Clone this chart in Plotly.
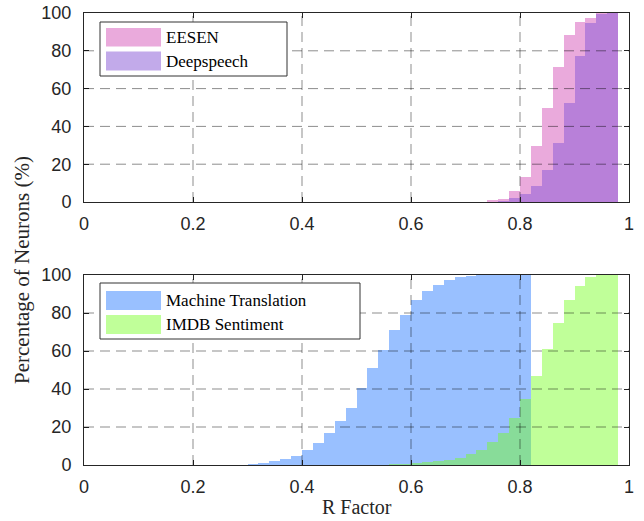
import plotly.graph_objects as go

# ---------------- data ----------------
top_bins = [0.75, 0.77, 0.79, 0.81, 0.83, 0.85, 0.87, 0.89, 0.91, 0.93, 0.95, 0.97]
eesen = [1, 1.6, 6, 13, 29.5, 50, 71.5, 88.5, 95, 97.5, 100, 100]
deepspeech = [0, 0.7, 2, 4, 8.5, 17, 31, 52.5, 77, 94.5, 99.3, 100]

mt_bins = [0.31, 0.33, 0.35, 0.37, 0.39, 0.41, 0.43, 0.45, 0.47, 0.49, 0.51, 0.53, 0.55,
           0.57, 0.59, 0.61, 0.63, 0.65, 0.67, 0.69, 0.71, 0.73, 0.75, 0.77, 0.79, 0.81]
machine_translation = [0.5, 1.2, 2, 3, 4.5, 8, 11.5, 17, 23, 30, 40.7, 51, 60.5,
                       71, 79, 87, 91.5, 95, 97.4, 98.8, 99.5, 100, 100, 100, 100, 100]

imdb_bins = [0.57, 0.59, 0.61, 0.63, 0.65, 0.67, 0.69, 0.71, 0.73, 0.75, 0.77, 0.79, 0.81,
             0.83, 0.85, 0.87, 0.89, 0.91, 0.93, 0.95, 0.97]
imdb_sentiment = [0.4, 0.6, 1.0, 1.4, 2, 2.8, 3.9, 5.7, 8, 12, 17, 25, 35,
                  47, 61, 75, 87, 94, 99, 100, 100]

bin_width = 0.02
x_ticks = [0, 0.2, 0.4, 0.6, 0.8, 1]
x_tick_labels = ["0", "0.2", "0.4", "0.6", "0.8", "1"]
y_ticks = [0, 20, 40, 60, 80, 100]
y_tick_labels = ["0", "20", "40", "60", "80", "100"]

# ---------------- styles ----------------
C_EESEN = "#eaaadc"
C_DEEP = "rgba(133,85,213,0.5)"
C_MT = "#99c0ff"
C_IMDB = "rgba(115,255,28,0.45)"
AX_COLOR = "#262626"
SANS = "Liberation Sans, Arial, sans-serif"
SERIF = "Liberation Serif, Times New Roman, serif"

W, H = 644, 521
L, R, T, B = 84, 15, 13, 56
PW, PH = W - L - R, H - T - B


def px_x(px):
    return (px - L) / PW


def px_y(py):
    return (H - B - py) / PH


fig = go.Figure()


def add_bars(xs, ys, color, name, xa, ya):
    fig.add_trace(go.Bar(x=xs, y=ys, width=bin_width, name=name,
                         marker=dict(color=color, line=dict(width=0)),
                         xaxis=xa, yaxis=ya, showlegend=False, hoverinfo="skip"))


add_bars(top_bins, eesen, C_EESEN, "EESEN", "x", "y")
add_bars(top_bins, deepspeech, C_DEEP, "Deepspeech", "x", "y")
add_bars(mt_bins, machine_translation, C_MT, "Machine Translation", "x2", "y2")
add_bars(imdb_bins, imdb_sentiment, C_IMDB, "IMDB Sentiment", "x2", "y2")

axis_common = dict(
    showline=True, linecolor=AX_COLOR, linewidth=1, mirror="ticks",
    ticks="inside", ticklen=5, tickcolor=AX_COLOR, tickwidth=1,
    showgrid=False, zeroline=False, layer="above traces", automargin=False,
    tickfont=dict(family=SANS, size=18, color=AX_COLOR),
)

top_dom = [px_y(202), 1]
bot_dom = [0, px_y(275)]

fig.update_layout(
    template="none",
    width=W, height=H,
    margin=dict(l=L, r=R, t=T, b=B, autoexpand=False),
    paper_bgcolor="white", plot_bgcolor="white",
    barmode="overlay", bargap=0,
    showlegend=False,
    xaxis=dict(range=[0, 1], domain=[0, 1], anchor="y", tickvals=x_ticks,
               ticktext=x_tick_labels, ticklabelstandoff=5, **axis_common),
    yaxis=dict(range=[0, 100], domain=top_dom, anchor="x", tickvals=y_ticks,
               ticktext=y_tick_labels, ticklabelstandoff=8, **axis_common),
    xaxis2=dict(range=[0, 1], domain=[0, 1], anchor="y2", tickvals=x_ticks,
                ticktext=x_tick_labels, ticklabelstandoff=5, **axis_common),
    yaxis2=dict(range=[0, 100], domain=bot_dom, anchor="x2", tickvals=y_ticks,
                ticktext=y_tick_labels, ticklabelstandoff=8, **axis_common),
)

# dashed grid lines drawn above the bars
GRID = dict(color="rgba(0,0,0,0.45)", width=1, dash="10px,6px")
for xa, ya in (("x", "y"), ("x2", "y2")):
    for xv in x_ticks[1:-1]:
        fig.add_shape(type="line", xref=xa, yref=ya, x0=xv, x1=xv,
                      y0=y_ticks[0], y1=y_ticks[-1], line=GRID, layer="above")
    for yv in y_ticks[1:-1]:
        fig.add_shape(type="line", xref=xa, yref=ya, x0=x_ticks[0], x1=x_ticks[-1],
                      y0=yv, y1=yv, line=GRID, layer="above")

# legends (boxes with wide swatches)
def legend(box, items):
    x0, y0, x1, y1 = box
    fig.add_shape(type="rect", xref="paper", yref="paper",
                  x0=px_x(x0), x1=px_x(x1), y0=px_y(y1), y1=px_y(y0),
                  line=dict(color="#333333", width=1), fillcolor="white", layer="above")
    for (sy0, sy1, color, label) in items:
        fig.add_shape(type="rect", xref="paper", yref="paper",
                      x0=px_x(106), x1=px_x(161), y0=px_y(sy1), y1=px_y(sy0),
                      line=dict(width=0), fillcolor=color, layer="above")
        fig.add_annotation(xref="paper", yref="paper", x=px_x(164), y=px_y((sy0 + sy1) / 2),
                           text=label, showarrow=False, xanchor="left", yanchor="middle",
                           font=dict(family=SERIF, size=17, color="black"))


legend((100, 22, 287, 76), [(28, 46.5, C_EESEN, "EESEN"), (51.5, 70.5, C_DEEP, "Deepspeech")])
legend((100, 283, 360, 339), [(291, 310, C_MT, "Machine Translation"),
                              (315, 334, C_IMDB, "IMDB Sentiment")])

# axis titles
fig.add_annotation(xref="paper", yref="paper", x=px_x(22), y=px_y(270),
                   text="Percentage of Neurons (%)", textangle=-90, showarrow=False,
                   xanchor="center", yanchor="middle",
                   font=dict(family=SERIF, size=21, color=AX_COLOR))
fig.add_annotation(xref="paper", yref="paper", x=0.5, y=px_y(507),
                   text="R Factor", showarrow=False, xanchor="center", yanchor="middle",
                   font=dict(family=SERIF, size=20, color=AX_COLOR))

fig.write_html("out.html", config={"displayModeBar": False},
               post_script="document.body.style.margin='0';document.body.style.padding='0';")
